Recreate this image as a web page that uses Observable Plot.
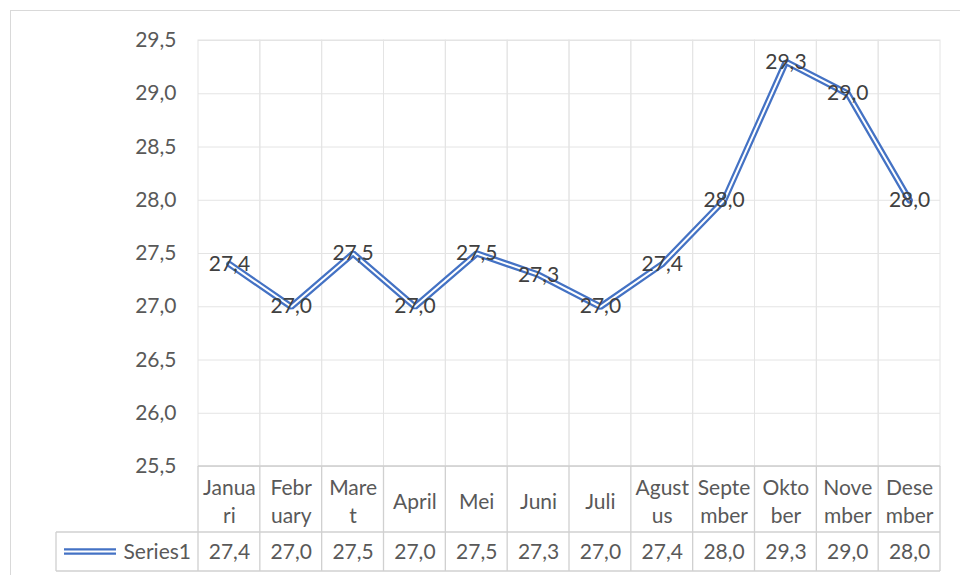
<!DOCTYPE html>
<html><head><meta charset="utf-8">
<script src="https://cdn.jsdelivr.net/npm/d3@7"></script>
<script src="https://cdn.jsdelivr.net/npm/@observablehq/plot@0.6"></script>
<style>
html,body{margin:0;padding:0;background:#fff;}
#wrap{position:relative;width:960px;height:575px;overflow:hidden;}
#frame{position:absolute;left:10px;top:10px;width:1000px;height:1000px;border-left:1.5px solid #d9d9d9;border-top:1.5px solid #d9d9d9;box-sizing:border-box;}
#chart{position:absolute;left:0;top:0;}
</style></head><body>
<div id="wrap"><div id="frame"></div><div id="chart"></div></div>
<script>
const months = ["Januari","February","Maret","April","Mei","Juni","Juli","Agustus","September","Oktober","November","Desember"];
const monthLabels = ["Janua\nri","Febr\nuary","Mare\nt","April","Mei","Juni","Juli","Agust\nus","Septe\nmber","Okto\nber","Nove\nmber","Dese\nmber"];
const values = [27.4,27.0,27.5,27.0,27.5,27.3,27.0,27.4,28.0,29.3,29.0,28.0];
const yTicks = [25.5,26.0,26.5,27.0,27.5,28.0,28.5,29.0,29.5];
const seriesName = "Series1";

const fmt = d => d.toFixed(1).replace(".", ",");
const data = months.map((m, i) => ({month: m, value: values[i], label: monthLabels[i]}));

const blue = "#4472C4";
const gridColor = "#e4e4e4";
const tableColor = "#d0d0d0";
const textColor = "#595959";
const font = "Lato, 'Open Sans', sans-serif";
const fs = 21;

const chart = Plot.plot({
  width: 960,
  height: 575,
  marginLeft: 198,
  marginRight: 20,
  marginTop: 40,
  marginBottom: 109,
  style: {fontFamily: font, fontSize: fs + "px", color: textColor, background: "transparent", overflow: "visible"},
  x: {type: "band", domain: months, padding: 0, round: false, axis: null},
  y: {domain: [25.5, 29.5], axis: null, label: null},
  marks: [
    Plot.gridY(yTicks, {stroke: gridColor, strokeOpacity: 1}),
    Plot.cell(data, {x: "month", fill: "none", stroke: gridColor, inset: 0}),
    Plot.axisY(yTicks, {tickSize: 0, tickPadding: 22, tickFormat: fmt, fill: textColor, fontSize: fs, label: null}),
    Plot.line(data, {x: "month", y: "value", stroke: blue, strokeWidth: 6.5, strokeLinejoin: "miter"}),
    Plot.line(data, {x: "month", y: "value", stroke: "white", strokeWidth: 2, strokeLinejoin: "miter"}),
    Plot.text(data, {x: "month", y: "value", text: d => fmt(d.value), fill: "#404040", fontSize: fs}),
    Plot.text(data, {x: "month", text: "label", frameAnchor: "bottom", lineAnchor: "middle", dy: 34, lineHeight: 1.33, fill: textColor, fontSize: fs}),
    Plot.text(data, {x: "month", text: d => fmt(d.value), frameAnchor: "bottom", lineAnchor: "middle", dy: 86, fill: textColor, fontSize: fs})
  ]
});
document.getElementById("chart").appendChild(chart);

// data table borders drawn from the plot's own scales
const sx = chart.scale("x");
const sy = chart.scale("y");
const x0 = sx.range[0], x1 = sx.range[1];
const yBottom = sy.range[0];
const rowHead = yBottom + 66, rowEnd = rowHead + 39;
const legendLeft = 56;
const svg = d3.select(chart);
const g = svg.append("g").attr("stroke", tableColor).attr("stroke-width", 1.3).attr("fill", "none");
const hline = (xa, xb, y) => g.append("line").attr("x1", xa).attr("x2", xb).attr("y1", y).attr("y2", y);
const vline = (x, ya, yb) => g.append("line").attr("x1", x).attr("x2", x).attr("y1", ya).attr("y2", yb);
hline(x0, x1, yBottom);
hline(legendLeft, x1, rowHead);
hline(legendLeft, x1, rowEnd);
vline(legendLeft, rowHead, rowEnd);
months.forEach(m => vline(sx.apply(m), yBottom, rowEnd));
vline(x1, yBottom, rowEnd);

// legend key in table
const ly = (rowHead + rowEnd) / 2;
svg.append("line").attr("x1", 64).attr("x2", 116).attr("y1", ly).attr("y2", ly).attr("stroke", blue).attr("stroke-width", 6.5);
svg.append("line").attr("x1", 64).attr("x2", 116).attr("y1", ly).attr("y2", ly).attr("stroke", "white").attr("stroke-width", 2);
svg.append("text").attr("x", x0 - 7).attr("y", ly).attr("dy", "0.35em").attr("text-anchor", "end")
  .attr("fill", textColor).attr("font-size", fs).text(seriesName);
</script>
</body></html>
